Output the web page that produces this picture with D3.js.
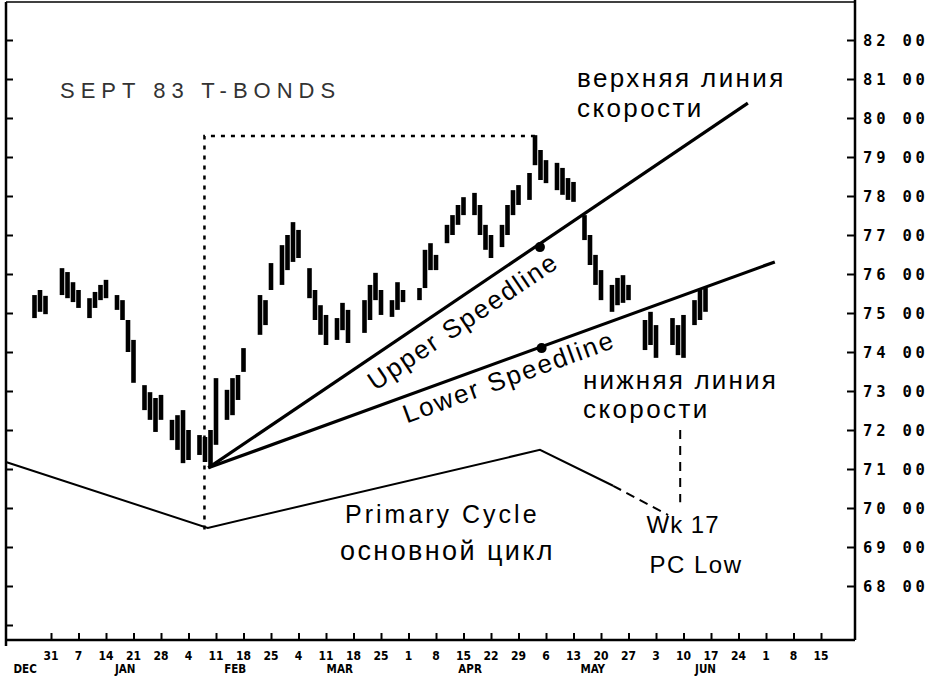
<!DOCTYPE html>
<html>
<head>
<meta charset="utf-8">
<script src="https://cdn.jsdelivr.net/npm/d3@7/dist/d3.min.js"></script>
<style>
  html, body { margin: 0; padding: 0; background: #fff; }
  svg { display: block; }
</style>
</head>
<body>
<svg id="chart" width="934" height="678"></svg>
<script>
// ---------- DATA ----------
// trading-day index 0 = Mon Dec 27 1982; weekly ticks fall on Fridays (index 4 + 5k)
const dayIndex = d3.range(0, 124);
const highs = [
  null, 75.46, 75.59, 75.44, null, null, 76.15, 76.05, 75.79, 75.59,
  null, 75.38, 75.54, 75.72, 75.85, null, 75.46, 75.33, 74.82, 74.31,
  null, 73.15, 72.97, 72.82, 72.90, null, 72.26, 72.38, 72.51, 72.00,
  null, 71.87, 71.82, 72.00, 73.33, null, 73.03, 73.33, 73.41, 74.10,
  null, null, 75.46, 75.33, 76.28, null, 76.74, 77.00, 77.33, 77.13,
  null, 76.15, 75.59, 75.20, 74.95, null, 74.87, 75.26, 75.08, null,
  null, 75.33, 75.72, 76.03, 75.59, null, 75.33, 75.79, 75.59, null,
  null, 75.64, 76.62, 76.79, 76.49, null, 77.26, 77.51, 77.77, 77.97,
  null, 78.08, 77.77, 77.26, 77.00, null, 77.26, 77.77, 78.15, 78.28,
  null, 78.59, 79.56, 79.18, 78.92, null, 78.85, 78.72, 78.46, 78.36,
  null, 77.51, 77.00, 76.49, 76.10, null, 75.72, 75.90, 75.97, 75.72,
  null, null, 74.82, 75.03, 74.69, null, null, 74.87, 74.69, 74.95,
  null, 75.33, 75.59, 75.64
];
const lows = [
  null, 74.87, 75.03, 74.97, null, null, 75.46, 75.38, 75.28, 75.13,
  null, 74.87, 75.13, 75.33, 75.38, null, 75.08, 74.82, 74.00, 73.21,
  null, 72.51, 72.26, 71.95, 72.26, null, 71.74, 71.49, 71.15, 71.23,
  null, 71.36, 71.18, 71.05, 71.62, null, 72.26, 72.38, 72.77, 73.49,
  null, null, 74.44, 74.69, 75.59, null, 75.72, 76.10, 76.31, 76.41,
  null, 75.38, 74.82, 74.44, 74.18, null, 74.31, 74.56, 74.23, null,
  null, 74.49, 74.82, 75.33, 74.95, null, 74.90, 75.08, 75.28, null,
  null, 75.33, 75.64, 76.10, 76.10, null, 76.79, 77.00, 77.26, 77.51,
  null, 77.51, 77.00, 76.62, 76.41, null, 76.69, 77.00, 77.51, 77.77,
  null, 77.90, 78.79, 78.41, 78.33, null, 78.15, 78.03, 77.90, 77.85,
  null, 76.87, 76.23, 75.72, 75.33, null, 75.03, 75.20, 75.26, 75.33,
  null, null, 74.05, 74.18, 73.85, null, null, 74.18, 73.92, 73.85,
  null, 74.69, 74.82, 75.03
];

// price axis
const priceTicks = [68, 69, 70, 71, 72, 73, 74, 75, 76, 77, 78, 79, 80, 81, 82];
const priceTickLabels = ["68 00","69 00","70 00","71 00","72 00","73 00","74 00","75 00",
                         "76 00","77 00","78 00","79 00","80 00","81 00","82 00"];

// date axis (weekly Fridays)
const weekTickDays = [4,9,14,19,24,29,34,39,44,49,54,59,64,69,74,79,84,89,94,99,104,109,114,119,124,129,134,139,144];
const weekLabels = ["31","7","14","21","28","4","11","18","25","4","11","18","25","1","8","15","22","29",
                    "6","13","20","27","3","10","17","24","1","8","15"];
const monthLabels = ["DEC","JAN","FEB","MAR","APR","MAY","JUN"];
const monthLabelDays = [-0.7, 17.5, 37.5, 56.5, 80.2, 102.5, 123];

// speedlines: from the February low, through the 2/3 and 1/3 points at the April-May high
const speedNames = ["Upper Speedline", "Lower Speedline"];
const speedStartDay = [32.6, 32.6];
const speedStartPrice = [71.03, 71.03];
const speedEndDay = [130.7, 135.6];
const speedEndPrice = [80.38, 76.31];
const speedDotDay = [92.9, 93.2];
const speedDotPrice = [76.69, 74.10];

// high/low box (dotted)
const boxLowDay = 31.9, boxHighDay = 92.2;
const boxHighPrice = 79.54, boxBottomPrice = 69.45;

// primary cycle curve
const cycleDays = [-4.2, 32.5, 92.9, 106.2];
const cyclePrices = [71.18, 69.49, 71.49, 70.57];
const cycleProjDays = [106.2, 116.2];
const cycleProjPrices = [70.57, 69.82];
const wk17Day = 118.4, wk17Top = 72.0, wk17Bottom = 70.15;

// ---------- DRAWING ----------
(function () {
const svg = d3.select("#chart");
const W = 934, H = 678;
const pL = 6, pR = 855, pT = 2, pB = 640;

const x = d3.scaleLinear().domain([0, 144]).range([29, 821]);
const y = d3.scaleLinear().domain([68, 82]).range([586, 40]);

svg.append("rect").attr("width", W).attr("height", H).attr("fill", "#fff");

// frame
const frame = svg.append("g").attr("stroke", "#000").attr("fill", "none");
frame.append("line").attr("x1", pL).attr("x2", pL).attr("y1", pT).attr("y2", pB + 6).attr("stroke-width", 2.5);
frame.append("line").attr("x1", pR).attr("x2", pR).attr("y1", 0).attr("y2", pB).attr("stroke-width", 2.5);
frame.append("line").attr("x1", pL).attr("x2", pR).attr("y1", pB).attr("y2", pB).attr("stroke-width", 2.5);
frame.append("line").attr("x1", pL).attr("x2", pR).attr("y1", pT).attr("y2", pT).attr("stroke-width", 1.5);

// right price axis (ticks inward)
const rAxis = d3.axisLeft(y).tickValues(priceTicks).tickSize(8).tickFormat("");
const rg = svg.append("g").attr("transform", `translate(${pR},0)`).call(rAxis);
rg.select(".domain").remove();
rg.selectAll(".tick line").attr("stroke", "#000").attr("stroke-width", 2);
svg.append("g").selectAll("text").data(priceTicks).join("text")
  .attr("x", pR + 8).attr("y", d => y(d) + 5.5)
  .attr("font-family", "DejaVu Sans Mono").attr("font-weight", "bold")
  .attr("font-size", 15.5).attr("letter-spacing", 3.8).attr("fill", "#000")
  .text((d, i) => priceTickLabels[i]);

// left ticks (inward, no labels)
const lAxis = d3.axisRight(y).tickValues(priceTicks.concat([67])).tickSize(7).tickFormat("");
const lg = svg.append("g").attr("transform", `translate(${pL},0)`).call(lAxis);
lg.select(".domain").remove();
lg.selectAll(".tick line").attr("stroke", "#000").attr("stroke-width", 2);

// bottom date axis
const bAxis = d3.axisTop(x).tickValues(weekTickDays).tickSize(7).tickFormat("");
const bg = svg.append("g").attr("transform", `translate(0,${pB})`).call(bAxis);
bg.select(".domain").remove();
bg.selectAll(".tick line").attr("stroke", "#000").attr("stroke-width", 2);
svg.append("g").selectAll("text").data(weekTickDays).join("text")
  .attr("x", d => x(d)).attr("y", pB + 20).attr("text-anchor", "middle")
  .attr("font-family", "DejaVu Sans Condensed").attr("font-weight", "bold")
  .attr("font-size", 12).attr("fill", "#000")
  .text((d, i) => weekLabels[i]);
svg.append("g").selectAll("text").data(monthLabelDays).join("text")
  .attr("x", d => x(d)).attr("y", pB + 33).attr("text-anchor", "middle")
  .attr("font-family", "DejaVu Sans Condensed").attr("font-weight", "bold")
  .attr("font-size", 11.5).attr("fill", "#000")
  .text((d, i) => monthLabels[i]);

// price bars
const bars = dayIndex.map(i => ({ i, h: highs[i], l: lows[i] })).filter(d => d.h != null && d.l != null);
svg.append("g").selectAll("line").data(bars).join("line")
  .attr("x1", d => x(d.i)).attr("x2", d => x(d.i))
  .attr("y1", d => y(d.h)).attr("y2", d => y(d.l))
  .attr("stroke", "#000").attr("stroke-width", 4.6).attr("stroke-linecap", "butt");

// dotted high/low box
svg.append("path")
  .attr("d", `M${x(boxLowDay)},${y(boxBottomPrice)} L${x(boxLowDay)},${y(boxHighPrice)} L${x(boxHighDay)},${y(boxHighPrice)}`)
  .attr("fill", "none").attr("stroke", "#000").attr("stroke-width", 2.5).attr("stroke-dasharray", "4,6");

// speedlines
speedNames.forEach((name, k) => {
  const x1 = x(speedStartDay[k]), y1 = y(speedStartPrice[k]);
  const x2 = x(speedEndDay[k]), y2 = y(speedEndPrice[k]);
  svg.append("line").attr("x1", x1).attr("y1", y1).attr("x2", x2).attr("y2", y2)
    .attr("stroke", "#000").attr("stroke-width", 3.2);
  svg.append("circle").attr("cx", x(speedDotDay[k])).attr("cy", y(speedDotPrice[k])).attr("r", 5).attr("fill", "#000");
  const ang = Math.atan2(y2 - y1, x2 - x1) * 180 / Math.PI;
  const frac = k === 0 ? 0.45 : 0.52;
  const ax = x1 + (x2 - x1) * frac, ay = y1 + (y2 - y1) * frac;
  svg.append("text")
    .attr("transform", `translate(${ax},${ay}) rotate(${ang})`)
    .attr("dy", k === 0 ? 30 : 26).attr("text-anchor", "middle")
    .attr("font-family", "Liberation Sans").attr("font-size", 26).attr("letter-spacing", 2)
    .attr("fill", "#000").text(name);
});

// primary cycle
const lineGen = d3.line().x(d => x(d[0])).y(d => y(d[1]));
svg.append("path").attr("d", lineGen(cycleDays.map((d, i) => [d, cyclePrices[i]])))
  .attr("fill", "none").attr("stroke", "#000").attr("stroke-width", 2);
svg.append("path").attr("d", lineGen(cycleProjDays.map((d, i) => [d, cycleProjPrices[i]])))
  .attr("fill", "none").attr("stroke", "#000").attr("stroke-width", 2).attr("stroke-dasharray", "9,6");
svg.append("line").attr("x1", x(wk17Day)).attr("x2", x(wk17Day)).attr("y1", y(wk17Top)).attr("y2", y(wk17Bottom))
  .attr("stroke", "#000").attr("stroke-width", 2).attr("stroke-dasharray", "9,7");

// text annotations
function label(txt, tx, ty, size, opts = {}) {
  svg.append("text").attr("x", tx).attr("y", ty)
    .attr("font-family", opts.family || "Liberation Sans")
    .attr("font-size", size).attr("font-weight", opts.weight || "normal")
    .attr("letter-spacing", opts.ls || 0).attr("fill", opts.fill || "#000")
    .attr("text-anchor", opts.anchor || "start").text(txt);
}
label("SEPT 83 T-BONDS", 60, 98, 22, { ls: 6, fill: "#333" });
label("верхняя линия", 577, 87, 26, { ls: 2.4 });
label("скорости", 577, 117, 26, { ls: 2.4 });
label("нижняя линия", 583, 389, 26, { ls: 2.2 });
label("скорости", 583, 418, 26, { ls: 2.4 });
label("Primary Cycle", 345, 523, 25, { ls: 3 });
label("основной цикл", 340, 560, 27, { ls: 2.4 });
label("Wk 17", 683, 533, 24, { anchor: "middle", ls: 1 });
label("PC Low", 696, 573, 24, { anchor: "middle", ls: 1.5 });
})();
</script>
</body>
</html>
